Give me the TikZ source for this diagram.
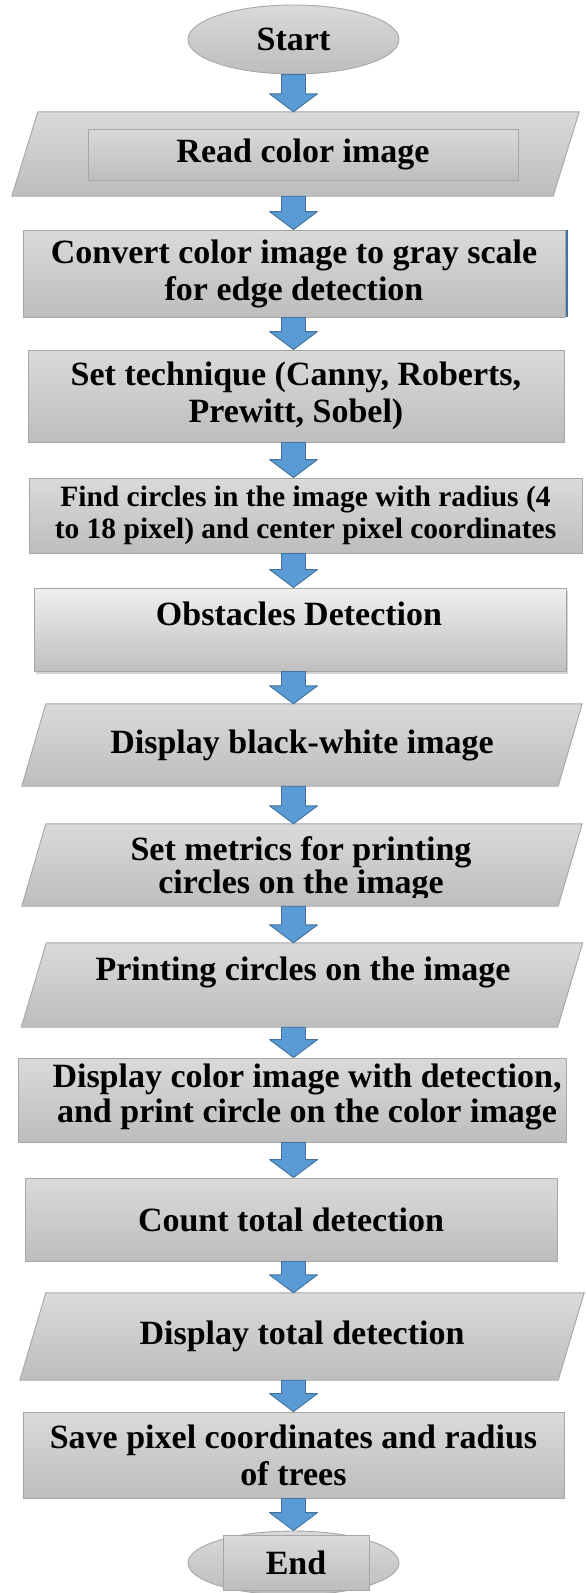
\documentclass[tikz,border=0pt]{standalone}
\usepackage{fontspec}
\setmainfont{Liberation Serif}
\usetikzlibrary{calc, shapes.geometric, positioning, shadows, backgrounds}

\definecolor{boxtop}{RGB}{218,218,218}
\definecolor{boxbottom}{RGB}{189,189,189}
\definecolor{boxline}{RGB}{166,166,166}
\definecolor{arrowfill}{RGB}{91,155,213}
\definecolor{arrowline}{RGB}{65,113,156}

\tikzset{
    flowbox/.style={rectangle, draw=boxline, line width=0.9pt,
        top color=boxtop, bottom color=boxbottom, inner sep=0pt,
        align=center, font=\bfseries\fontsize{34}{37}\selectfont},
    iobox/.style={rectangle, inner sep=0pt, align=center,
        font=\bfseries\fontsize{34}{37}\selectfont},
    ioshape/.style={draw=boxline, line width=0.9pt,
        top color=boxtop, bottom color=boxbottom},
    termbox/.style={flowbox, ellipse},
    label text/.style={inner sep=0pt, anchor=base,
        font=\bfseries\fontsize{34}{37}\selectfont},
    flowarrow/.style={fill=arrowfill, draw=arrowline, line width=0.9pt},
}

% slanted input/output outline behind a node
\newcommand{\slantbox}[2]{%
    \begin{scope}[on background layer]
        \draw[ioshape] ([xshift=#2/2]#1.north west) -- ([xshift=#2/2]#1.north east)
            -- ([xshift=-#2/2]#1.south east) -- ([xshift=-#2/2]#1.south west) -- cycle;
    \end{scope}
}

% block arrow from the bottom of one node to the top of the next
\newcommand{\stepdown}[2]{%
    \coordinate (t) at (axis |- #1.south);
    \coordinate (h) at (axis |- #2.north);
    \filldraw[flowarrow] ($(t)+(-12,0)$) -- ($(t)+(12,0)$)
        -- ($(h)+(12,-18)$) -- ($(h)+(24,-18)$) -- (h)
        -- ($(h)+(-24,-18)$) -- ($(h)+(-12,-18)$) -- cycle;
}

\begin{document}
\begin{tikzpicture}[x=1pt, y=-1pt, line join=round]

    \useasboundingbox (0,0) rectangle (586,1593);

    % =========================
    % AXIS OF THE ARROWS
    % =========================
    \coordinate (axis) at (293.5,0);

    % =========================
    % BLOCKS
    % =========================
    \node[termbox, minimum width=211pt, minimum height=69pt]
        (start) at (293.5,39.5) {Start};

    \node[iobox, minimum width=541pt, minimum height=84pt]
        (read) at (295.5,154) {};
    \slantbox{read}{26pt}
    \node[flowbox, minimum width=430pt, minimum height=51pt]
        (readin) at (303,154.5) {Read color image};

    \node[flowbox, minimum width=542pt, minimum height=87pt]
        (convert) at (294,273.5)
        {Convert color image to gray scale\\for edge detection};
    \draw[arrowline, line width=1.2pt]
        ([xshift=1.5pt]convert.north east) -- ([xshift=1.5pt]convert.south east);

    \node[flowbox, minimum width=536pt, minimum height=92pt]
        (tech) at (296,396)
        {Set technique (Canny, Roberts,\\Prewitt, Sobel)};

    \node[flowbox, minimum width=553pt, minimum height=75pt,
          font=\bfseries\fontsize{29.5}{32}\selectfont]
        (find) at (305.5,515.5)
        {Find circles in the image with radius (4\\to 18 pixel) and center pixel coordinates};

    \node[flowbox, minimum width=532pt, minimum height=83pt,
          top color=black!6, bottom color=black!25,
          drop shadow={shadow xshift=1.5pt, shadow yshift=-3pt, opacity=0.35}]
        (obst) at (300,629.5) {};
    \node[label text] (obsttext) at (299,625) {Obstacles Detection};

    \node[iobox, minimum width=536pt, minimum height=82pt]
        (bw) at (302,745) {Display black-white image};
    \slantbox{bw}{24pt}

    \node[iobox, minimum width=536pt, minimum height=82pt]
        (metrics) at (302,865) {};
    \slantbox{metrics}{24pt}
    \begin{scope}
        \clip (0,820) rectangle (586,897);
        \node[label text] (metricsa) at (301,860) {Set metrics for printing};
        \node[label text] (metricsb) at (301,893) {circles on the image};
    \end{scope}

    \node[iobox, minimum width=536pt, minimum height=84pt]
        (printing) at (302,985) {};
    \slantbox{printing}{25pt}
    \node[label text] (printtext) at (303,980) {Printing circles on the image};

    \node[flowbox, minimum width=548pt, minimum height=84pt]
        (color) at (292,1100) {};
    \node[label text] (colora) at (307,1087) {Display color image with detection,};
    \node[label text] (colorb) at (307,1122) {and print circle on the color image};

    \node[flowbox, minimum width=532pt, minimum height=83pt]
        (count) at (291,1219.5) {Count total detection};

    \node[iobox, minimum width=538pt, minimum height=87pt]
        (total) at (302,1336.5) {Display total detection};
    \slantbox{total}{26pt}

    \node[flowbox, minimum width=541pt, minimum height=86pt]
        (save) at (293.5,1455)
        {Save pixel coordinates and radius\\of trees};

    \node[termbox, minimum width=211pt, minimum height=64pt]
        (end) at (293.5,1563) {};
    \node[flowbox, minimum width=146pt, minimum height=55pt]
        (endin) at (296,1563) {End};

    % =========================
    % ARROWS
    % =========================
    \stepdown{start}{read}
    \stepdown{read}{convert}
    \stepdown{convert}{tech}
    \stepdown{tech}{find}
    \stepdown{find}{obst}
    \stepdown{obst}{bw}
    \stepdown{bw}{metrics}
    \stepdown{metrics}{printing}
    \stepdown{printing}{color}
    \stepdown{color}{count}
    \stepdown{count}{total}
    \stepdown{total}{save}
    \stepdown{save}{end}

\end{tikzpicture}
\end{document}
